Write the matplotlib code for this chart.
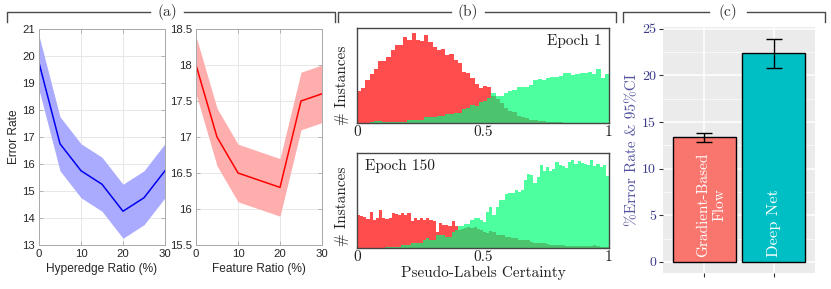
import numpy as np
import matplotlib
matplotlib.use('Agg')
import matplotlib.pyplot as plt
from matplotlib.lines import Line2D

# ---------------- data ----------------
# (a) ablation curves
ratio = [0, 5, 10, 15, 20, 25, 30]
hyper_err = [19.75, 16.75, 15.75, 15.25, 14.25, 14.75, 15.75]
hyper_band = [1.0, 1.0, 1.0, 1.0, 1.0, 1.0, 1.0]
feat_err = [18.0, 17.0, 16.5, 16.4, 16.3, 17.5, 17.6]
feat_band = [0.4, 0.4, 0.4, 0.4, 0.4, 0.4, 0.4]

# (b) histograms of pseudo-label certainty (counts, arbitrary units)
epoch1_wrong = [32, 35, 43, 49, 54, 62, 62, 66, 73, 78, 78, 86, 83, 90, 83, 82, 88, 81, 76, 73,
                74, 68, 69, 63, 60, 51, 50, 45, 39, 35, 37, 36, 27, 24, 20, 15, 12, 11, 7, 6,
                5, 3, 3, 2.5, 2, 1.5, 1, 1, 1, 0.5, 0.5, 0.5, 0.5, 0.3, 0.3, 0.2, 0.2, 0.1, 0, 0]
epoch1_right = [0, 0, 0.5, 1, 2, 2, 1.5, 1, 1, 1, 1, 1.5, 3, 3, 3, 3, 6, 6, 6, 7,
                7, 9, 9, 10, 10, 14, 15, 18, 17, 21, 22, 25, 30, 27, 27, 30, 32, 33, 36, 36,
                36, 38, 43, 44, 43, 45, 46, 46, 47, 50, 50, 48, 49, 50, 50, 51, 49, 54, 45, 49]
epoch150_wrong = [33, 32, 31, 29, 36, 28, 30, 38, 30, 29, 30, 35, 34, 33, 35, 33, 35, 27, 30, 28,
                  30, 28, 30, 28, 27, 16, 25, 23, 23, 22, 27, 22, 18, 19, 20, 21, 20, 21, 19, 18,
                  16, 15, 17, 16, 13, 13, 13, 11, 11, 10, 10, 8, 8, 8, 8, 6, 5, 5, 5, 5,
                  4, 3, 3, 3, 3, 3, 2, 2, 2, 2, 2, 2, 2, 2, 2.5, 3, 2, 1, 1, 1]
epoch150_right = [0.5, 0.5, 0.5, 0.5, 0.5, 0.5, 0.5, 0.5, 0.5, 1, 1, 1, 1, 1, 3, 3, 3, 5, 5, 5,
                  5, 8, 10, 8, 8, 13, 13, 13, 11, 11, 16, 18, 22, 22, 24, 24, 28, 30, 30, 28,
                  26, 36, 41, 33, 41, 48, 48, 54, 55, 55, 58, 56, 58, 68, 74, 73, 65, 71, 83, 77,
                  81, 77, 79, 86, 83, 82, 80, 86, 88, 84, 87, 85, 84, 83, 88, 82, 84, 81, 83, 72]

# (c) bar chart
methods = ['Gradient-Based\nFlow', 'Deep Net']
err_rate = [13.4, 22.4]
ci_low = [12.85, 20.76]
ci_high = [13.86, 23.93]

# ---------------- figure ----------------
W, H = 831, 289
fig = plt.figure(figsize=(W / 100, H / 100), dpi=100)


def rect(x0, y0, x1, y1):
    return [x0 / W, 1 - y1 / H, (x1 - x0) / W, (y1 - y0) / H]


SANS = 'Liberation Sans'
SERIF = 'cmr10'

# ---- brackets ----
def bracket(x0, x1, xl, label, gap=17, y=12, drop=10):
    c = '#4a4a4a'
    fy = lambda v: 1 - v / H
    fig.add_artist(Line2D([x0 / W, x0 / W, (xl - gap) / W], [fy(y + drop), fy(y), fy(y)],
                          color=c, lw=1.0, transform=fig.transFigure))
    fig.add_artist(Line2D([(xl + gap) / W, x1 / W, x1 / W], [fy(y), fy(y), fy(y + drop)],
                          color=c, lw=1.0, transform=fig.transFigure))
    fig.text(xl / W, fy(y), label, ha='center', va='center', fontsize=11,
             family=SERIF, color='#333333')


bracket(7, 335, 167, '(a)')
bracket(338, 616, 468, '(b)')
bracket(623, 825, 728, '(c)', gap=19)

# ---- panel (a) ----
def matlab_axes(ax):
    for s in ax.spines.values():
        s.set_color('#a8a8a8')
        s.set_linewidth(0.7)
    ax.grid(True, color='#e3e3e3', lw=0.6)
    ax.set_axisbelow(True)
    ax.tick_params(direction='in', length=3, width=0.6, color='#a8a8a8',
                   labelcolor='#262626', labelsize=8.2, top=True, right=True, pad=3)
    for lab in ax.get_xticklabels() + ax.get_yticklabels():
        lab.set_family(SANS)


ax1 = fig.add_axes(rect(39, 29, 165, 245))
r = np.array(ratio)
he, hb = np.array(hyper_err), np.array(hyper_band)
ax1.fill_between(r, he - hb, he + hb, color='#aaaaff', lw=0)
ax1.plot(r, he, color='#0000ee', lw=1.1)
ax1.set_xlim(0, 30)
ax1.set_ylim(13, 21)
ax1.set_xticks([0, 10, 20, 30])
ax1.set_yticks(range(13, 22))
matlab_axes(ax1)
ax1.set_xlabel('Hyperedge Ratio (%)', family=SANS, fontsize=8.6, color='#262626', labelpad=3)
ax1.set_ylabel('Error Rate', family=SANS, fontsize=8.6, color='#262626')
ax1.yaxis.set_label_coords(-0.15, 0.5)

ax2 = fig.add_axes(rect(196, 29, 322, 245))
fe, fb = np.array(feat_err), np.array(feat_band)
ax2.fill_between(r, fe - fb, fe + fb, color='#ffaeae', lw=0)
ax2.plot(r, fe, color='#ff0000', lw=1.1)
ax2.set_xlim(0, 30)
ax2.set_ylim(15.5, 18.5)
ax2.set_xticks([0, 10, 20, 30])
ax2.set_yticks([15.5, 16, 16.5, 17, 17.5, 18, 18.5])
ax2.set_yticklabels(['15.5', '16', '16.5', '17', '17.5', '18', '18.5'])
matlab_axes(ax2)
ax2.set_xlabel('Feature Ratio (%)', family=SANS, fontsize=8.6, color='#262626', labelpad=3)

# ---- panel (b) ----
RED = '#ff4d4d'
GREEN = '#4dff9f'
DARK = '#4cc46e'


def hist_axes(ax, wrong, right, label, loc):
    wrong = np.array(wrong, float)
    right = np.array(right, float)
    edges = np.linspace(0, 1, len(wrong) + 1)
    ax.stairs(wrong, edges, fill=True, color=RED, lw=0)
    ax.stairs(right, edges, fill=True, color=GREEN, lw=0)
    ax.stairs(np.minimum(wrong, right), edges, fill=True, color=DARK, lw=0)
    ax.set_xlim(0, 1)
    ax.set_ylim(0, 95)
    ax.set_yticks([])
    ax.set_xticks([0, 0.5, 1])
    ax.set_xticklabels(['0', '0.5', '1'], family=SERIF, fontsize=11)
    ax.tick_params(axis='x', length=0, pad=2, labelcolor='#222222')
    for s in ax.spines.values():
        s.set_color('#454545')
        s.set_linewidth(1.0)
    ax.set_ylabel('# Instances', family=SERIF, fontsize=11, color='#222222')
    if loc == 'right':
        ax.text(0.97, 0.94, label, transform=ax.transAxes, ha='right', va='top',
                family=SERIF, fontsize=11, color='#222222')
    else:
        ax.text(0.03, 0.94, label, transform=ax.transAxes, ha='left', va='top',
                family=SERIF, fontsize=11, color='#222222')


bt = fig.add_axes(rect(357, 28, 609, 123))
hist_axes(bt, epoch1_wrong, epoch1_right, 'Epoch 1', 'right')
bt.yaxis.set_label_coords(-0.03, 0.40)
bb = fig.add_axes(rect(357, 153, 609, 248))
hist_axes(bb, epoch150_wrong, epoch150_right, 'Epoch 150', 'left')
bb.yaxis.set_label_coords(-0.03, 0.44)
bb.set_xlabel('Pseudo-Labels Certainty', family=SERIF, fontsize=11, color='#222222', labelpad=1)

# ---- panel (c) ----
ac = fig.add_axes(rect(663, 27, 815, 273))
ac.set_facecolor('#ebebeb')
for s in ac.spines.values():
    s.set_visible(False)
xpos = np.arange(1, len(methods) + 1)
ac.set_xlim(0.4, 2.6)
ac.set_ylim(-1.2, 25.2)
ac.set_yticks([0, 5, 10, 15, 20, 25])
ac.set_yticks([2.5, 7.5, 12.5, 17.5, 22.5], minor=True)
ac.set_xticks(xpos)
ac.set_xticklabels(['', ''])
ac.grid(True, which='major', color='white', lw=1.1)
ac.grid(True, which='minor', axis='y', color='white', lw=0.5)
ac.set_axisbelow(True)
ac.tick_params(which='major', length=3, width=0.8, color='#333333', labelcolor='#3b3b8a',
               labelsize=10, pad=2)
ac.tick_params(which='minor', length=0)
for lab in ac.get_yticklabels():
    lab.set_family(SERIF)
ac.bar(xpos, err_rate, width=0.9, color=['#f8766d', '#00bfc4'], edgecolor='black', lw=1.0,
       zorder=2)
er = np.array(err_rate)
yerr = [er - np.array(ci_low), np.array(ci_high) - er]
ac.errorbar(xpos, er, yerr=yerr, fmt='none', ecolor='black', elinewidth=1.0, capsize=6,
            capthick=1.0, zorder=3)
txt_off = [0.1, 0.0]
txt_size = [11, 11.8]
for xp, name, off, fs in zip(xpos, methods, txt_off, txt_size):
    ac.text(xp + off, 0.5, name, rotation=90, ha='center', va='bottom', color='white',
            family=SERIF, fontsize=fs, multialignment='center', zorder=4, linespacing=1.2)
ac.set_ylabel('%Error Rate & 95%CI', family=SERIF, fontsize=11, color='#5252a0', labelpad=2)

fig.savefig('out.png', dpi=100)
